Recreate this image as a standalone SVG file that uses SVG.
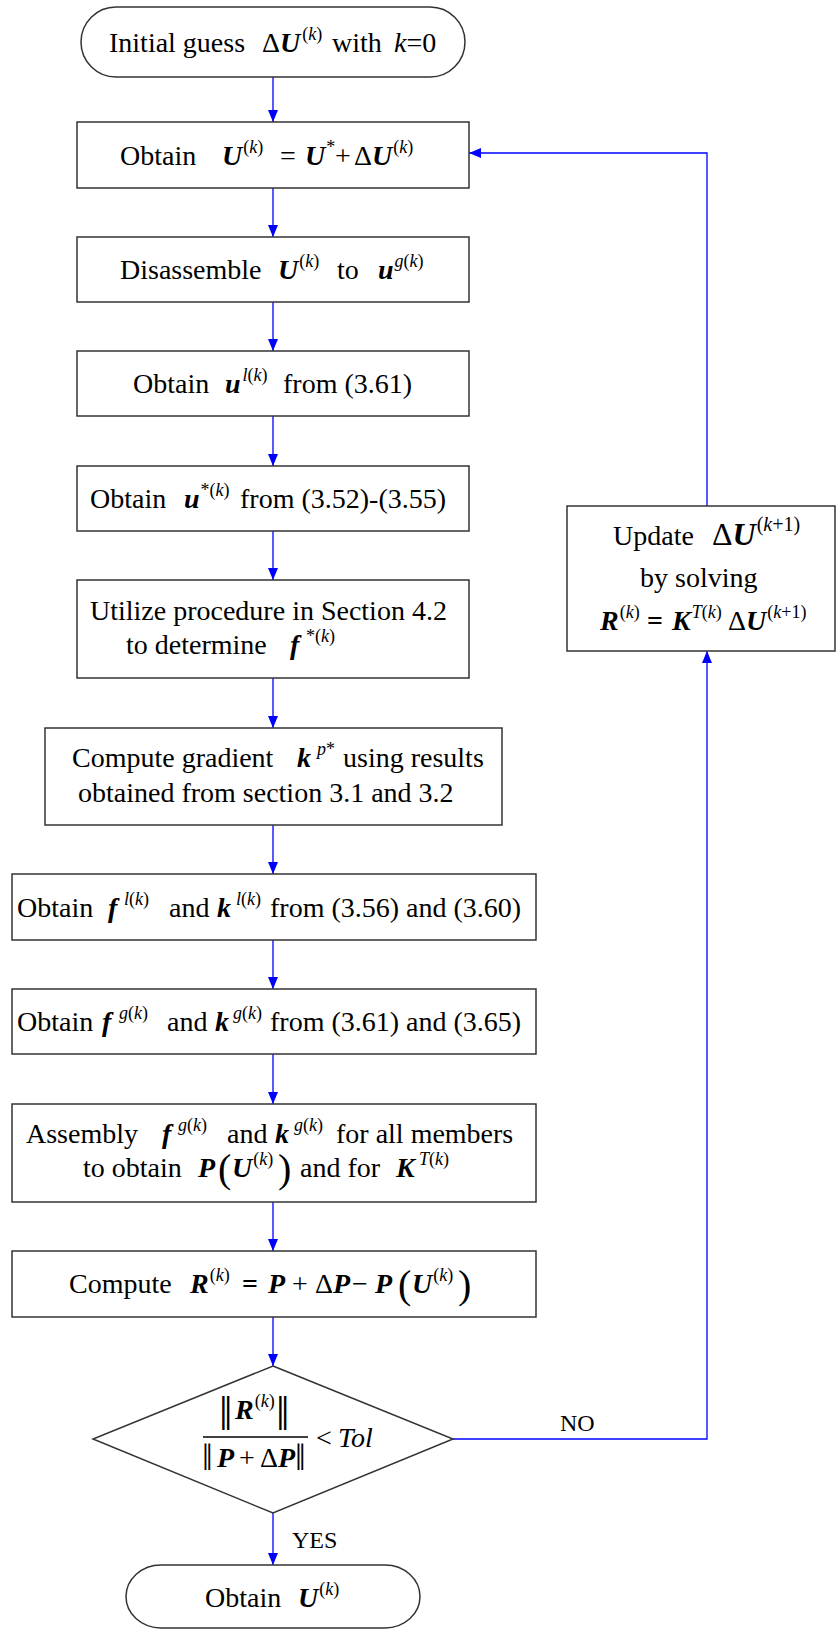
<svg xmlns="http://www.w3.org/2000/svg" width="836" height="1630" viewBox="0 0 836 1630">
<defs>
<style>
.box{fill:#fff;stroke:#333;stroke-width:1.5}
.con{fill:none;stroke:#0000ff;stroke-width:1.3}
.t{font-family:"Liberation Serif","Times New Roman",serif;font-size:28px;fill:#000}
.bi{font-weight:bold;font-style:italic}
.i{font-style:italic}
.b{font-weight:bold}
.s{font-size:18px}
.lbl{font-family:"Liberation Serif","Times New Roman",serif;font-size:24px;fill:#000}
.big{font-size:40px}
</style>
<marker id="ah" markerUnits="userSpaceOnUse" markerWidth="12" markerHeight="10" refX="12" refY="5" orient="auto">
<path d="M0,0 L12,5 L0,10 z" fill="#0000ff"/>
</marker>
</defs>
<rect width="836" height="1630" fill="#fff"/>

<g id="connectors">
<line class="con" x1="273" y1="77" x2="273" y2="122" marker-end="url(#ah)"/>
<line class="con" x1="273" y1="188" x2="273" y2="237" marker-end="url(#ah)"/>
<line class="con" x1="273" y1="302" x2="273" y2="351" marker-end="url(#ah)"/>
<line class="con" x1="273" y1="416" x2="273" y2="466" marker-end="url(#ah)"/>
<line class="con" x1="273" y1="531" x2="273" y2="580" marker-end="url(#ah)"/>
<line class="con" x1="273" y1="678" x2="273" y2="728" marker-end="url(#ah)"/>
<line class="con" x1="273" y1="825" x2="273" y2="874" marker-end="url(#ah)"/>
<line class="con" x1="273" y1="940" x2="273" y2="989" marker-end="url(#ah)"/>
<line class="con" x1="273" y1="1054" x2="273" y2="1104" marker-end="url(#ah)"/>
<line class="con" x1="273" y1="1202" x2="273" y2="1251" marker-end="url(#ah)"/>
<line class="con" x1="273" y1="1317" x2="273" y2="1366" marker-end="url(#ah)"/>
<line class="con" x1="273" y1="1513" x2="273" y2="1565" marker-end="url(#ah)"/>
<polyline class="con" points="453,1439 707,1439 707,651" marker-end="url(#ah)"/>
<polyline class="con" points="707,506 707,153 469,153" marker-end="url(#ah)"/>
<text class="lbl" x="292" y="1548">YES</text>
<text class="lbl" x="560" y="1431">NO</text>
</g>

<g id="start">
<rect class="box" x="81" y="7" width="384" height="70" rx="35" ry="35"/>
<text class="t" y="52"><tspan x="262">Δ</tspan><tspan class="bi">U</tspan><tspan class="s" dx="2" y="40">(</tspan><tspan class="s i">k</tspan><tspan class="s">)</tspan><tspan x="332" y="52">with</tspan><tspan class="i" x="394">k</tspan><tspan>=0</tspan><tspan x="109">Initial guess</tspan></text>
</g>

<g id="n2">
<rect class="box" x="77" y="122" width="392" height="66"/>
<text class="t" y="165"><tspan x="120">Obtain</tspan><tspan class="bi" x="222">U</tspan><tspan class="s" dx="1" y="153">(</tspan><tspan class="s i">k</tspan><tspan class="s">)</tspan><tspan x="280" y="165">=</tspan><tspan class="bi" x="305">U</tspan><tspan class="s" dx="1" y="153">*</tspan><tspan x="335" y="165">+</tspan><tspan x="354">Δ</tspan><tspan class="bi">U</tspan><tspan class="s" dx="1" y="153">(</tspan><tspan class="s i">k</tspan><tspan class="s">)</tspan></text>
</g>

<g id="n3">
<rect class="box" x="77" y="237" width="392" height="65"/>
<text class="t" y="279"><tspan x="120">Disassemble</tspan><tspan class="bi" x="278">U</tspan><tspan class="s" dx="1" y="267">(</tspan><tspan class="s i">k</tspan><tspan class="s">)</tspan><tspan x="337" y="279">to</tspan><tspan class="bi" x="378">u</tspan><tspan class="s i" dx="1" y="267">g</tspan><tspan class="s">(</tspan><tspan class="s i">k</tspan><tspan class="s">)</tspan></text>
</g>

<g id="n4">
<rect class="box" x="77" y="351" width="392" height="65"/>
<text class="t" y="393"><tspan x="133">Obtain</tspan><tspan class="bi" x="225">u</tspan><tspan class="s i" dx="2" y="381">l</tspan><tspan class="s">(</tspan><tspan class="s i">k</tspan><tspan class="s">)</tspan><tspan x="283" y="393">from (3.61)</tspan></text>
</g>

<g id="n5">
<rect class="box" x="77" y="466" width="392" height="65"/>
<text class="t" y="508"><tspan x="90">Obtain</tspan><tspan class="bi" x="184">u</tspan><tspan class="s" dx="1" y="496">*(</tspan><tspan class="s i">k</tspan><tspan class="s">)</tspan><tspan x="240" y="508">from (3.52)-(3.55)</tspan></text>
</g>

<g id="n6">
<rect class="box" x="77" y="580" width="392" height="98"/>
<text class="t" x="90" y="620">Utilize procedure in Section 4.2</text>
<text class="t" y="654"><tspan x="126">to determine</tspan><tspan class="bi" x="290">f</tspan><tspan class="s" x="306" y="642">*(</tspan><tspan class="s i">k</tspan><tspan class="s">)</tspan></text>
</g>

<g id="n7">
<rect class="box" x="45" y="728" width="457" height="97"/>
<text class="t" y="767"><tspan x="72">Compute gradient</tspan><tspan class="bi" x="297">k</tspan><tspan class="s i" x="317" y="755">p</tspan><tspan class="s">*</tspan><tspan x="343" y="767">using results</tspan></text>
<text class="t" x="78" y="802">obtained from section 3.1 and 3.2</text>
</g>

<g id="n8">
<rect class="box" x="12" y="874" width="524" height="66"/>
<text class="t" y="917"><tspan x="17">Obtain</tspan><tspan class="bi" x="108">f</tspan><tspan class="s i" x="124" y="905">l</tspan><tspan class="s">(</tspan><tspan class="s i">k</tspan><tspan class="s">)</tspan><tspan x="169" y="917">and</tspan><tspan class="bi" x="217">k</tspan><tspan class="s i" x="236" y="905">l</tspan><tspan class="s">(</tspan><tspan class="s i">k</tspan><tspan class="s">)</tspan><tspan x="270" y="917">from (3.56) and (3.60)</tspan></text>
</g>

<g id="n9">
<rect class="box" x="12" y="989" width="524" height="65"/>
<text class="t" y="1031"><tspan x="17">Obtain</tspan><tspan class="bi" x="102">f</tspan><tspan class="s i" x="119" y="1019">g</tspan><tspan class="s">(</tspan><tspan class="s i">k</tspan><tspan class="s">)</tspan><tspan x="167" y="1031">and</tspan><tspan class="bi" x="215">k</tspan><tspan class="s i" x="233" y="1019">g</tspan><tspan class="s">(</tspan><tspan class="s i">k</tspan><tspan class="s">)</tspan><tspan x="270" y="1031">from (3.61) and (3.65)</tspan></text>
</g>

<g id="n10">
<rect class="box" x="12" y="1104" width="524" height="98"/>
<text class="t" y="1143"><tspan x="26">Assembly</tspan><tspan class="bi" x="162">f</tspan><tspan class="s i" x="178" y="1131">g</tspan><tspan class="s">(</tspan><tspan class="s i">k</tspan><tspan class="s">)</tspan><tspan x="227" y="1143">and</tspan><tspan class="bi" x="275">k</tspan><tspan class="s i" x="294" y="1131">g</tspan><tspan class="s">(</tspan><tspan class="s i">k</tspan><tspan class="s">)</tspan><tspan x="336" y="1143">for all members</tspan></text>
<text class="t" y="1177"><tspan x="83">to obtain</tspan><tspan class="bi" x="198">P</tspan><tspan class="big" x="218" y="1182">(</tspan><tspan class="bi" x="232" y="1177">U</tspan><tspan class="s" dx="1" y="1165">(</tspan><tspan class="s i">k</tspan><tspan class="s">)</tspan><tspan class="big" x="278" y="1182">)</tspan><tspan x="300" y="1177">and for</tspan><tspan class="bi" x="396">K</tspan><tspan class="s i" x="419" y="1165">T</tspan><tspan class="s">(</tspan><tspan class="s i">k</tspan><tspan class="s">)</tspan></text>
</g>

<g id="n11">
<rect class="box" x="12" y="1251" width="524" height="66"/>
<text class="t" y="1293"><tspan x="69">Compute</tspan><tspan class="bi" x="190">R</tspan><tspan class="s" dx="1" y="1281">(</tspan><tspan class="s i">k</tspan><tspan class="s">)</tspan><tspan class="b" x="242" y="1293">=</tspan><tspan class="bi" x="268">P</tspan><tspan x="292">+</tspan><tspan x="315">Δ</tspan><tspan class="bi">P</tspan><tspan x="352">−</tspan><tspan class="bi" x="375">P</tspan><tspan class="big" x="398" y="1298">(</tspan><tspan class="bi" x="412" y="1293">U</tspan><tspan class="s" dx="1" y="1281">(</tspan><tspan class="s i">k</tspan><tspan class="s">)</tspan><tspan class="big" x="458" y="1298">)</tspan></text>
</g>

<g id="decision">
<polygon class="box" points="273,1366 453,1439 273,1513 93,1439"/>
<text class="t" y="1419"><tspan x="219" y="1430" font-size="48">‖</tspan><tspan class="bi" x="235" y="1419">R</tspan><tspan class="s" dx="1" y="1407">(</tspan><tspan class="s i">k</tspan><tspan class="s">)</tspan><tspan x="276" y="1430" font-size="48">‖</tspan></text>
<line x1="203" y1="1437" x2="308" y2="1437" stroke="#000" stroke-width="1.5"/>
<text class="t" y="1470"><tspan x="202" font-size="38">‖</tspan><tspan class="bi" x="217" y="1467">P</tspan><tspan x="239">+</tspan><tspan x="260">Δ</tspan><tspan class="bi">P</tspan><tspan x="295" y="1470" font-size="38">‖</tspan></text>
<text class="t" y="1447"><tspan x="316">&lt;</tspan><tspan class="i" x="338">Tol</tspan></text>
</g>

<g id="end">
<rect class="box" x="126" y="1565" width="294" height="63" rx="35" ry="35"/>
<text class="t" y="1607"><tspan x="205">Obtain</tspan><tspan class="bi" x="298">U</tspan><tspan class="s" dx="1" y="1595">(</tspan><tspan class="s i">k</tspan><tspan class="s">)</tspan></text>
</g>

<g id="update">
<rect class="box" x="567" y="506" width="268" height="145"/>
<text class="t" y="545"><tspan x="613">Update</tspan><tspan x="712" font-size="32">Δ</tspan><tspan class="bi" font-size="32">U</tspan><tspan dx="1" y="531" font-size="20">(</tspan><tspan class="i" font-size="20">k</tspan><tspan font-size="20">+1)</tspan></text>
<text class="t" x="640" y="587">by solving</text>
<text class="t" y="630"><tspan class="bi" x="600">R</tspan><tspan class="s" dx="1" y="618">(</tspan><tspan class="s i">k</tspan><tspan class="s">)</tspan><tspan class="b" x="647" y="630">=</tspan><tspan class="bi" x="672">K</tspan><tspan class="s i" dx="1" y="618">T</tspan><tspan class="s">(</tspan><tspan class="s i">k</tspan><tspan class="s">)</tspan><tspan x="728" y="630">Δ</tspan><tspan class="bi">U</tspan><tspan class="s" dx="1" y="618">(</tspan><tspan class="s i">k</tspan><tspan class="s">+1)</tspan></text>
</g>
</svg>
